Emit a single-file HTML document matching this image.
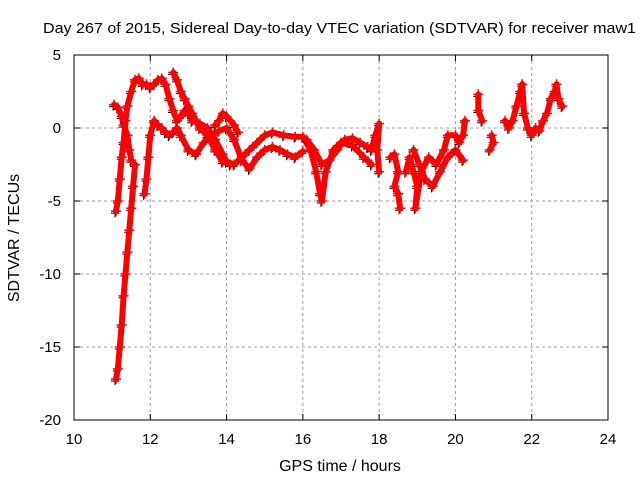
<!DOCTYPE html>
<html><head><meta charset="utf-8"><style>
body{margin:0;background:#fff}
svg{display:block;font-family:"Liberation Sans",sans-serif;font-size:15px}
</style></head><body>
<svg id="c" width="640" height="480">
<text x="43" y="33" textLength="593" lengthAdjust="spacingAndGlyphs" style="font-size:15px">Day 267 of 2015, Sidereal Day-to-day VTEC variation (SDTVAR) for receiver maw1</text>
<text x="340" y="471" text-anchor="middle" style="font-size:16px">GPS time / hours</text>
<text transform="translate(19,238) rotate(-90)" text-anchor="middle" style="font-size:16px">SDTVAR / TECUs</text>
<g id="grid"></g>
<g id="axes"></g>
<g id="marks"></g>
<rect x="74" y="55" width="534" height="365" fill="none" stroke="#000"/>
</svg>
<script>
const xTicks=[10,12,14,16,18,20,22,24];
const yTicks=[5,0,-5,-10,-15,-20];
const traces=[
[[11.1,-17.2],[11.15,-16.5],[11.2,-15],[11.25,-13.5],[11.3,-11.5],[11.35,-10],[11.4,-8.5],[11.45,-7],[11.5,-5.5],[11.55,-4],[11.6,-2.5]],
[[11.05,1.6],[11.15,1.4],[11.25,0.8],[11.3,0.2],[11.4,-0.5],[11.45,-1.5],[11.5,-2.2]],
[[11.1,-5.7],[11.15,-5],[11.2,-3.5],[11.25,-2],[11.3,-1],[11.35,0.5],[11.4,1.5],[11.5,2.5],[11.6,3.3],[11.7,3.4],[11.8,3.0],[11.9,3.0],[12.0,2.8],[12.1,3.0],[12.2,3.3],[12.3,3.4],[12.4,3.0],[12.5,2],[12.6,1.2],[12.7,0.5],[12.8,0.8],[12.9,1.2],[13.0,1.0],[13.1,0.5],[13.3,0.3],[13.5,0],[13.7,-0.8],[13.9,-1.8],[14.0,-2.3],[14.2,-2.5],[14.4,-2.0],[14.6,-1.5],[14.8,-1.0],[15.0,-0.5],[15.2,-0.3],[15.5,-0.5],[15.8,-0.6],[16.0,-0.6],[16.2,-1.5],[16.35,-3],[16.45,-4.5],[16.5,-5],[16.6,-3],[16.8,-1.5],[17.0,-1.0],[17.3,-1.2],[17.6,-2],[17.8,-2.5]],
[[11.85,-4.5],[11.9,-3.5],[11.95,-2],[12.0,-0.5],[12.1,0.5],[12.2,0.2],[12.3,0],[12.4,-0.3],[12.5,-0.5],[12.6,-0.3],[12.7,0],[12.8,-0.5],[13.0,-1.5],[13.2,-1.8],[13.4,-1.0],[13.6,-0.5],[13.8,-0.2],[14.0,0.0],[14.2,-0.8],[14.4,-2.2],[14.6,-2.8],[14.8,-2.0],[15.0,-1.5],[15.2,-1.3],[15.4,-1.5],[15.6,-1.8],[15.8,-2.0],[16.0,-1.6]],
[[12.6,3.8],[12.7,3.3],[12.8,2.5],[12.9,2.0],[13.0,1.5],[13.1,1.0],[13.3,0.0],[13.5,-0.5],[13.7,-1.5],[13.9,-2.3],[14.1,-2.5]],
[[13.7,0.2],[13.8,0.5],[13.9,1.0],[14.0,0.8],[14.2,0.2],[14.3,-0.3]],
[[16.1,-0.8],[16.3,-1.5],[16.5,-2.5],[16.7,-2.2],[16.9,-1.5],[17.1,-0.8],[17.3,-0.7],[17.5,-1.0],[17.7,-1.3]],
[[17.8,-1.5],[17.9,-0.5],[18.0,0.3],[17.95,-1.5],[18.0,-3.0]],
[[18.3,-2.0],[18.4,-1.8],[18.5,-3],[18.4,-4],[18.5,-4.5],[18.55,-5.5]],
[[18.7,-3],[18.8,-2],[18.9,-3],[19.0,-4],[18.95,-5.5],[19.1,-3],[19.3,-2],[19.5,-2.5],[19.7,-1.5],[19.8,-0.5],[20.0,-0.5],[20.1,-1.0],[20.2,-0.5],[20.25,0.5]],
[[18.9,-1.5],[19.05,-2.5],[19.2,-3.5],[19.4,-4.0],[19.6,-3],[19.8,-2],[20.0,-1.5],[20.2,-2.2]],
[[20.6,2.3],[20.6,1.2],[20.7,0.5]],
[[20.9,-1.5],[21.0,-1.0],[20.95,-0.5]],
[[21.3,0.5],[21.4,0],[21.5,0.5],[21.6,1.5],[21.7,2.5],[21.75,3],[21.8,1.0],[21.9,0],[22.0,-0.5],[22.1,0],[22.2,-0.2],[22.3,0.5],[22.4,1.0],[22.5,2],[22.6,2.5],[22.65,3.0],[22.7,2],[22.8,1.5]]
];
const NS='http://www.w3.org/2000/svg';
const X=v=>74+(v-10)*534/14, Y=v=>55+(5-v)*365/25;
const grid=document.getElementById('grid'),axes=document.getElementById('axes'),marks=document.getElementById('marks');
function mk(t,a,p){const e=document.createElementNS(NS,t);for(const k in a)e.setAttribute(k,a[k]);p.appendChild(e);return e;}
xTicks.forEach(v=>{
 if(v>10&&v<24){const g=mk('line',{x1:X(v),x2:X(v),y1:55,y2:420,stroke:'#a0a0a0','stroke-dasharray':'3,3'},grid);
 
 }
 mk('line',{x1:X(v),x2:X(v),y1:420,y2:414,stroke:'#000'},axes);
 mk('line',{x1:X(v),x2:X(v),y1:55,y2:61,stroke:'#000'},axes);
 const t=mk('text',{x:X(v),y:444,'text-anchor':'middle'},axes);t.textContent=v;
 
 
});
yTicks.forEach(v=>{
 if(v<5&&v>-20){const g=mk('line',{x1:74,x2:608,y1:Y(v),y2:Y(v),stroke:'#a0a0a0','stroke-dasharray':'3,3'},grid);
 
 }
 mk('line',{x1:74,x2:80,y1:Y(v),y2:Y(v),stroke:'#000'},axes);
 mk('line',{x1:608,x2:602,y1:Y(v),y2:Y(v),stroke:'#000'},axes);
 const t=mk('text',{x:61,y:Y(v)+5,'text-anchor':'end'},axes);t.textContent=v;
 
 
});
traces.forEach(tr=>{
 tr.forEach(p=>{
  const x=X(p[0]),y=Y(p[1]);
  mk('path',{d:`M${x-5},${y+2}h8M${x-1},${y-2}v8`,stroke:'#000','stroke-width':1},marks);
 });
 const pts=tr.map(p=>X(p[0])+','+Y(p[1])).join(' ');
 const pl=mk('polyline',{points:pts,fill:'none',stroke:'#f00','stroke-width':6,'stroke-linejoin':'round','stroke-linecap':'round'},marks);
 
 
 tr.forEach(p=>{
  const x=X(p[0]),y=Y(p[1]);
  const m=mk('path',{d:`M${x-5},${y}h10M${x},${y-5}v10`,stroke:'#f00','stroke-width':1.5},marks);
  
  
 });
});
</script>
</body></html>
